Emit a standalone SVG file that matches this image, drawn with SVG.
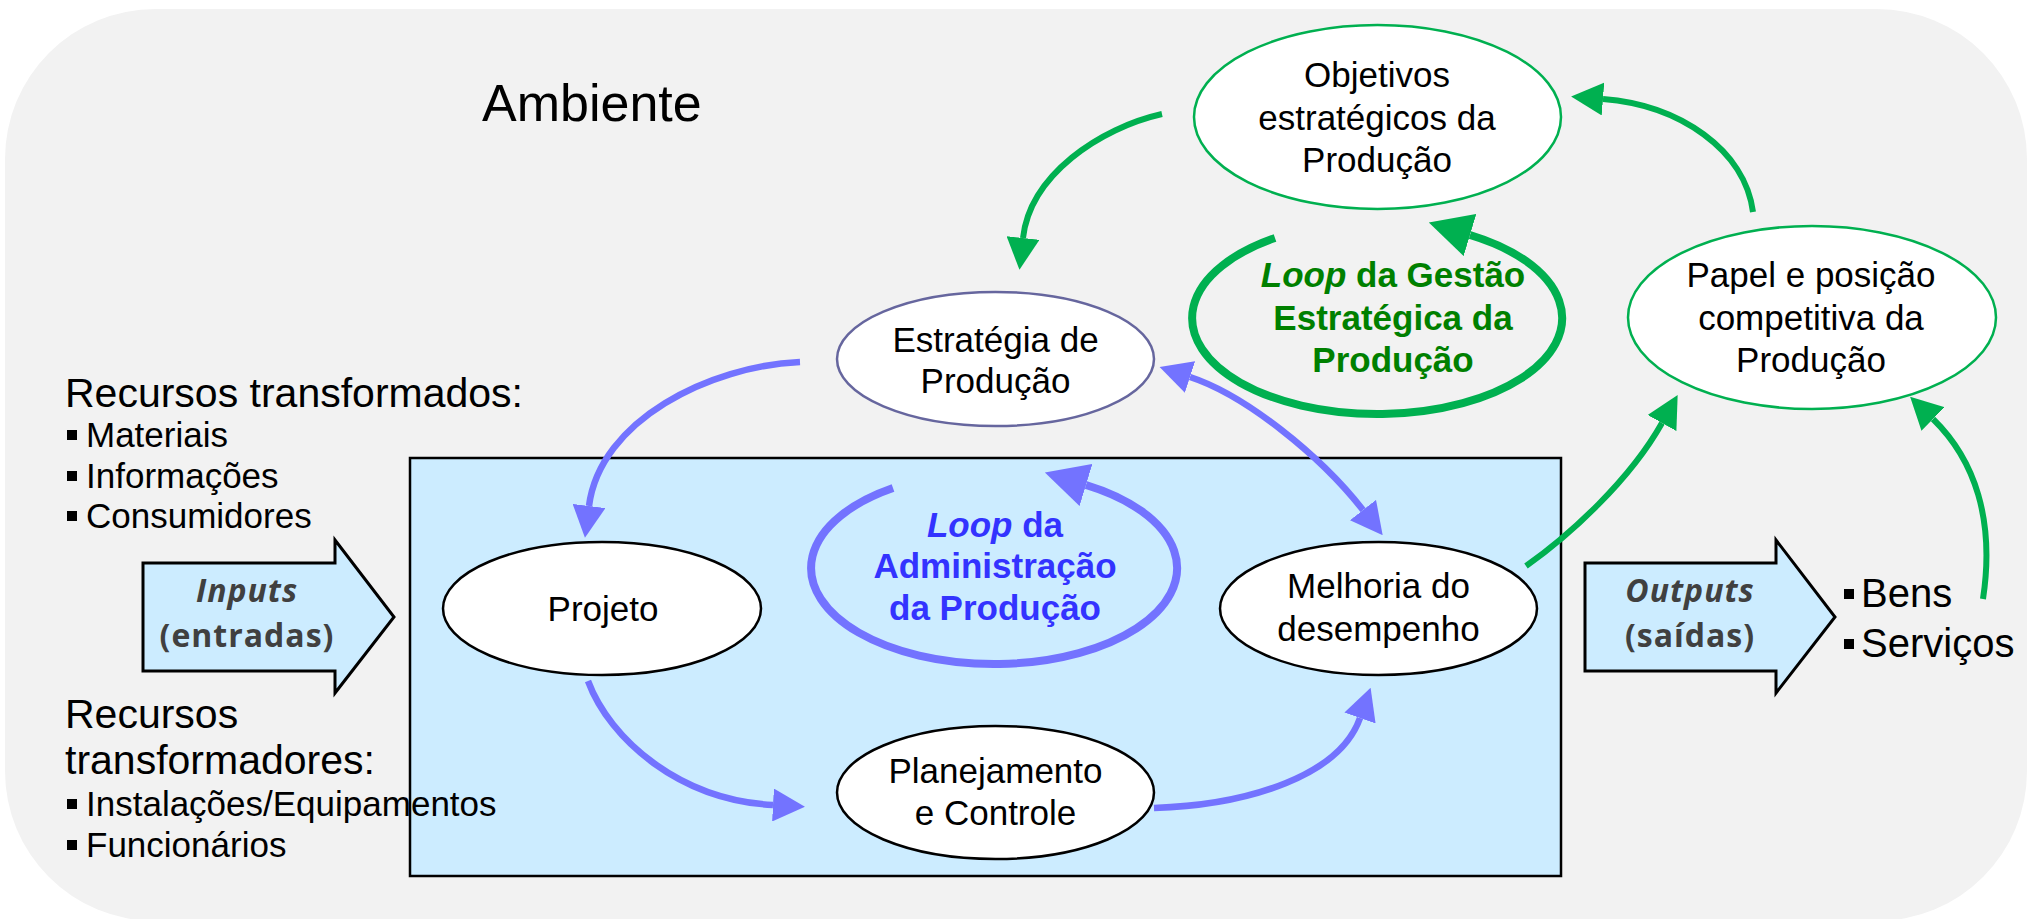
<svg xmlns="http://www.w3.org/2000/svg" width="2042" height="919" viewBox="0 0 2042 919">
<defs>
<style>
.t{font-family:"Liberation Sans",Arial,sans-serif;fill:#000}
.n{font-size:35px;text-anchor:middle}
.bl{font-size:35px}
.lpb{font-family:"Liberation Sans",Arial,sans-serif;font-weight:bold;font-size:35px;text-anchor:middle;fill:#3333ff}
.lpg{font-family:"Liberation Sans",Arial,sans-serif;font-weight:bold;font-size:35px;text-anchor:middle;fill:#008000}
.io{font-family:"Open Sans","Liberation Sans",sans-serif;font-weight:bold;font-size:32px;letter-spacing:1px;fill:#404040;text-anchor:middle}
.cb{fill:none;stroke:#7373ff;stroke-width:6.5}
.cg{fill:none;stroke:#00b050;stroke-width:6}
.oe{fill:#fff;stroke:#000;stroke-width:2.5}
.ge{fill:#fff;stroke:#00b050;stroke-width:2.5}
.arr{fill:#ccecff;stroke:#000;stroke-width:3}
</style>
<marker id="ab" markerUnits="userSpaceOnUse" markerWidth="32" markerHeight="33" refX="0" refY="16.5" orient="auto-start-reverse" viewBox="0 0 32 33"><path d="M0,0L32,16.5L0,33z" fill="#7373ff"/></marker>
<marker id="ag" markerUnits="userSpaceOnUse" markerWidth="32" markerHeight="33" refX="0" refY="16.5" orient="auto" viewBox="0 0 32 33"><path d="M0,0L32,16.5L0,33z" fill="#00b050"/></marker>
<marker id="abL" markerUnits="userSpaceOnUse" markerWidth="43" markerHeight="44" refX="0" refY="22" orient="auto" viewBox="0 0 43 44"><path d="M0,0L43,22L0,44z" fill="#7373ff"/></marker>
<marker id="agL" markerUnits="userSpaceOnUse" markerWidth="43" markerHeight="44" refX="0" refY="22" orient="auto" viewBox="0 0 43 44"><path d="M0,0L43,22L0,44z" fill="#00b050"/></marker>
</defs>

<rect x="5" y="9" width="2022" height="912" rx="150" ry="150" fill="#f2f2f2"/>

<g id="operacao">
<rect x="410" y="458" width="1151" height="418" fill="#ccecff" stroke="#000" stroke-width="2.5"/>
</g>

<g id="ambiente-label">
<text class="t" x="482" y="121" font-size="52">Ambiente</text>
</g>

<g id="recursos-transformados">
<text class="t" x="65" y="407" font-size="41">Recursos transformados:</text>
<rect x="67" y="430" width="10" height="10"/>
<text class="t bl" x="86" y="447">Materiais</text>
<rect x="67" y="471" width="10" height="10"/>
<text class="t bl" x="86" y="488">Informações</text>
<rect x="67" y="511" width="10" height="10"/>
<text class="t bl" x="86" y="528">Consumidores</text>
</g>

<g id="recursos-transformadores">
<text class="t" x="65" y="728" font-size="41">Recursos</text>
<text class="t" x="65" y="774" font-size="41">transformadores:</text>
<rect x="67" y="799" width="10" height="10"/>
<text class="t bl" x="86" y="816">Instalações/Equipamentos</text>
<rect x="67" y="840" width="10" height="10"/>
<text class="t bl" x="86" y="857">Funcionários</text>
</g>

<g id="inputs">
<polygon class="arr" points="143,563 335,563 335,540 394,617 335,693 335,671 143,671"/>
<text class="io" x="247" y="602" font-style="italic">Inputs</text>
<text class="io" x="247" y="647">(entradas)</text>
</g>

<g id="outputs">
<polygon class="arr" points="1585,563 1776,563 1776,540 1835,617 1776,693 1776,671 1585,671"/>
<text class="io" x="1690" y="602" font-style="italic">Outputs</text>
<text class="io" x="1690" y="647">(saídas)</text>
</g>

<g id="bens-servicos">
<rect x="1844" y="589" width="10" height="10"/>
<text class="t" x="1861" y="607" font-size="40">Bens</text>
<rect x="1844" y="639" width="10" height="10"/>
<text class="t" x="1861" y="657" font-size="40">Serviços</text>
</g>

<g id="connectors">
<path class="cb" d="M800,362 C710,366 600,420 589,506" marker-end="url(#ab)"/>
<path class="cb" d="M588,681 C610,740 680,800 773,805" marker-end="url(#ab)"/>
<path class="cb" d="M1154,808 C1250,805 1340,775 1360,718" marker-end="url(#ab)"/>
<path class="cb" d="M1190,377 C1245,395 1320,455 1363,510" marker-start="url(#ab)" marker-end="url(#ab)"/>
<path class="cg" d="M1162,114 C1100,128 1030,175 1023,238" marker-end="url(#ag)"/>
<path class="cg" d="M1753,212 C1745,150 1680,105 1603,99" marker-end="url(#ag)"/>
<path class="cg" d="M1526,566 C1570,535 1630,480 1662,423" marker-end="url(#ag)"/>
<path class="cg" d="M1983,599 C1995,520 1975,460 1933,419" marker-end="url(#ag)"/>
</g>

<g id="loop-administracao">
<path d="M893,488 A183,96 0 1 0 1086,485" fill="none" stroke="#7373ff" stroke-width="8" marker-end="url(#abL)"/>
<text class="lpb" x="995" y="537"><tspan font-style="italic">Loop</tspan> da</text>
<text class="lpb" x="995" y="578">Administração</text>
<text class="lpb" x="995" y="620">da Produção</text>
</g>

<g id="loop-gestao">
<path d="M1275,238 A185,96 0 1 0 1470,235" fill="none" stroke="#00b050" stroke-width="8" marker-end="url(#agL)"/>
<text class="lpg" x="1393" y="287"><tspan font-style="italic">Loop</tspan> da Gestão</text>
<text class="lpg" x="1393" y="330">Estratégica da</text>
<text class="lpg" x="1393" y="372">Produção</text>
</g>

<g id="projeto">
<ellipse class="oe" cx="602" cy="608.5" rx="159" ry="66.5"/>
<text class="t n" x="603" y="621">Projeto</text>
</g>

<g id="estrategia">
<ellipse cx="995.5" cy="359" rx="158.5" ry="67" fill="#fff" stroke="#66669e" stroke-width="2.5"/>
<text class="t n" x="995.5" y="352">Estratégia de</text>
<text class="t n" x="995.5" y="393">Produção</text>
</g>

<g id="planejamento">
<ellipse class="oe" cx="995.5" cy="792.5" rx="158.5" ry="66.5"/>
<text class="t n" x="995.5" y="783">Planejamento</text>
<text class="t n" x="995.5" y="825">e Controle</text>
</g>

<g id="melhoria">
<ellipse class="oe" cx="1378.5" cy="608.5" rx="158.5" ry="66.5"/>
<text class="t n" x="1378.5" y="598">Melhoria do</text>
<text class="t n" x="1378.5" y="641">desempenho</text>
</g>

<g id="objetivos">
<ellipse class="ge" cx="1377.5" cy="117" rx="183.5" ry="92"/>
<text class="t n" x="1377" y="87">Objetivos</text>
<text class="t n" x="1377" y="130">estratégicos da</text>
<text class="t n" x="1377" y="172">Produção</text>
</g>

<g id="papel">
<ellipse class="ge" cx="1812" cy="317.5" rx="184" ry="91.5"/>
<text class="t n" x="1811" y="287">Papel e posição</text>
<text class="t n" x="1811" y="330">competitiva da</text>
<text class="t n" x="1811" y="372">Produção</text>
</g>
</svg>
